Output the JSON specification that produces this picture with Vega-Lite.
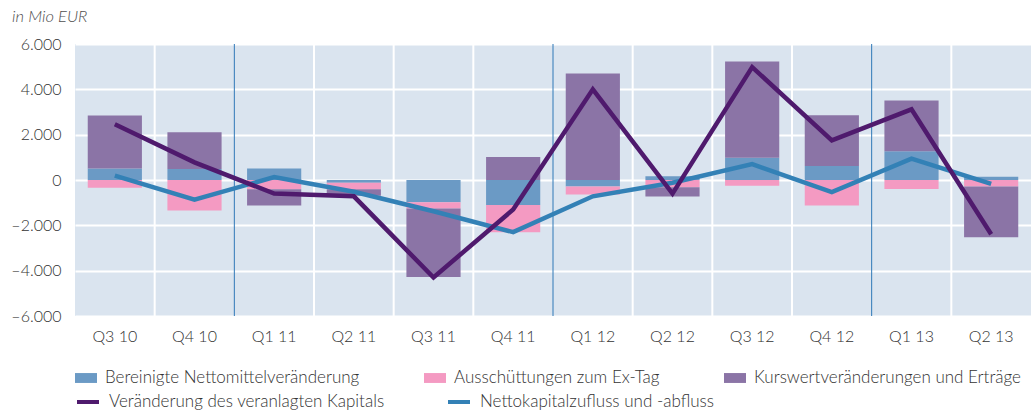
{
  "$schema": "https://vega.github.io/schema/vega-lite/v6.json",
  "width": 956,
  "height": 272,
  "autosize": {"type": "none"},
  "padding": {"left": 75, "top": 44, "right": 0, "bottom": 98},
  "title": {"text": "in Mio EUR", "anchor": "start", "frame": "group", "orient": "top", "dx": -63, "offset": 11, "font": "Lato", "fontStyle": "italic", "fontWeight": 300, "fontSize": 16.5, "color": "#505050"},
  "datasets": {
    "bars": [
      {"q": "Q3 10", "s": "Bereinigte Nettomittelveränderung", "o": 1, "v": 510},
      {"q": "Q3 10", "s": "Ausschüttungen zum Ex-Tag", "o": 2, "v": -340},
      {"q": "Q3 10", "s": "Kurswertveränderungen und Erträge", "o": 3, "v": 2340},
      {"q": "Q4 10", "s": "Bereinigte Nettomittelveränderung", "o": 1, "v": 480},
      {"q": "Q4 10", "s": "Ausschüttungen zum Ex-Tag", "o": 2, "v": -1350},
      {"q": "Q4 10", "s": "Kurswertveränderungen und Erträge", "o": 3, "v": 1630},
      {"q": "Q1 11", "s": "Bereinigte Nettomittelveränderung", "o": 1, "v": 510},
      {"q": "Q1 11", "s": "Ausschüttungen zum Ex-Tag", "o": 2, "v": -410},
      {"q": "Q1 11", "s": "Kurswertveränderungen und Erträge", "o": 3, "v": -720},
      {"q": "Q2 11", "s": "Bereinigte Nettomittelveränderung", "o": 1, "v": -120},
      {"q": "Q2 11", "s": "Ausschüttungen zum Ex-Tag", "o": 2, "v": -290},
      {"q": "Q2 11", "s": "Kurswertveränderungen und Erträge", "o": 3, "v": -290},
      {"q": "Q3 11", "s": "Bereinigte Nettomittelveränderung", "o": 1, "v": -980},
      {"q": "Q3 11", "s": "Ausschüttungen zum Ex-Tag", "o": 2, "v": -280},
      {"q": "Q3 11", "s": "Kurswertveränderungen und Erträge", "o": 3, "v": -3020},
      {"q": "Q4 11", "s": "Bereinigte Nettomittelveränderung", "o": 1, "v": -1100},
      {"q": "Q4 11", "s": "Ausschüttungen zum Ex-Tag", "o": 2, "v": -1200},
      {"q": "Q4 11", "s": "Kurswertveränderungen und Erträge", "o": 3, "v": 1010},
      {"q": "Q1 12", "s": "Bereinigte Nettomittelveränderung", "o": 1, "v": -290},
      {"q": "Q1 12", "s": "Ausschüttungen zum Ex-Tag", "o": 2, "v": -350},
      {"q": "Q1 12", "s": "Kurswertveränderungen und Erträge", "o": 3, "v": 4700},
      {"q": "Q2 12", "s": "Bereinigte Nettomittelveränderung", "o": 1, "v": 160},
      {"q": "Q2 12", "s": "Ausschüttungen zum Ex-Tag", "o": 2, "v": -320},
      {"q": "Q2 12", "s": "Kurswertveränderungen und Erträge", "o": 3, "v": -410},
      {"q": "Q3 12", "s": "Bereinigte Nettomittelveränderung", "o": 1, "v": 980},
      {"q": "Q3 12", "s": "Ausschüttungen zum Ex-Tag", "o": 2, "v": -250},
      {"q": "Q3 12", "s": "Kurswertveränderungen und Erträge", "o": 3, "v": 4250},
      {"q": "Q4 12", "s": "Bereinigte Nettomittelveränderung", "o": 1, "v": 620},
      {"q": "Q4 12", "s": "Ausschüttungen zum Ex-Tag", "o": 2, "v": -1130},
      {"q": "Q4 12", "s": "Kurswertveränderungen und Erträge", "o": 3, "v": 2240},
      {"q": "Q1 13", "s": "Bereinigte Nettomittelveränderung", "o": 1, "v": 1270},
      {"q": "Q1 13", "s": "Ausschüttungen zum Ex-Tag", "o": 2, "v": -400},
      {"q": "Q1 13", "s": "Kurswertveränderungen und Erträge", "o": 3, "v": 2240},
      {"q": "Q2 13", "s": "Bereinigte Nettomittelveränderung", "o": 1, "v": 145},
      {"q": "Q2 13", "s": "Ausschüttungen zum Ex-Tag", "o": 2, "v": -290},
      {"q": "Q2 13", "s": "Kurswertveränderungen und Erträge", "o": 3, "v": -2240}
    ],
    "lines": [
      {"q": "Q3 10", "s": "Veränderung des veranlagten Kapitals", "v": 2460},
      {"q": "Q4 10", "s": "Veränderung des veranlagten Kapitals", "v": 780},
      {"q": "Q1 11", "s": "Veränderung des veranlagten Kapitals", "v": -600},
      {"q": "Q2 11", "s": "Veränderung des veranlagten Kapitals", "v": -720},
      {"q": "Q3 11", "s": "Veränderung des veranlagten Kapitals", "v": -4300},
      {"q": "Q4 11", "s": "Veränderung des veranlagten Kapitals", "v": -1300},
      {"q": "Q1 12", "s": "Veränderung des veranlagten Kapitals", "v": 4000},
      {"q": "Q2 12", "s": "Veränderung des veranlagten Kapitals", "v": -600},
      {"q": "Q3 12", "s": "Veränderung des veranlagten Kapitals", "v": 4980},
      {"q": "Q4 12", "s": "Veränderung des veranlagten Kapitals", "v": 1750},
      {"q": "Q1 13", "s": "Veränderung des veranlagten Kapitals", "v": 3120},
      {"q": "Q2 13", "s": "Veränderung des veranlagten Kapitals", "v": -2390},
      {"q": "Q3 10", "s": "Nettokapitalzufluss und -abfluss", "v": 190},
      {"q": "Q4 10", "s": "Nettokapitalzufluss und -abfluss", "v": -870},
      {"q": "Q1 11", "s": "Nettokapitalzufluss und -abfluss", "v": 130},
      {"q": "Q2 11", "s": "Nettokapitalzufluss und -abfluss", "v": -520},
      {"q": "Q3 11", "s": "Nettokapitalzufluss und -abfluss", "v": -1380},
      {"q": "Q4 11", "s": "Nettokapitalzufluss und -abfluss", "v": -2300},
      {"q": "Q1 12", "s": "Nettokapitalzufluss und -abfluss", "v": -720},
      {"q": "Q2 12", "s": "Nettokapitalzufluss und -abfluss", "v": -120},
      {"q": "Q3 12", "s": "Nettokapitalzufluss und -abfluss", "v": 700},
      {"q": "Q4 12", "s": "Nettokapitalzufluss und -abfluss", "v": -530},
      {"q": "Q1 13", "s": "Nettokapitalzufluss und -abfluss", "v": 940},
      {"q": "Q2 13", "s": "Nettokapitalzufluss und -abfluss", "v": -170}
    ],
    "grid": [
      {"q": "Q4 10"}, {"q": "Q1 11"}, {"q": "Q2 11"}, {"q": "Q3 11"}, {"q": "Q4 11"}, {"q": "Q1 12"},
      {"q": "Q2 12"}, {"q": "Q3 12"}, {"q": "Q4 12"}, {"q": "Q1 13"}, {"q": "Q2 13"}
    ]
  },
  "config": {
    "locale": {"number": {"decimal": ",", "thousands": ".", "grouping": [3], "currency": ["", " €"], "minus": "–"}},
    "view": {"fill": "#dae4ef", "stroke": null},
    "font": "Lato",
    "axis": {"labelFont": "Lato", "labelFontWeight": 300, "labelColor": "#333333", "labelFontSize": 16, "title": null, "domain": false, "ticks": false},
    "legend": {"labelFont": "Lato", "labelFontWeight": 300, "labelColor": "#333333", "labelFontSize": 17, "labelLimit": 500, "title": null, "orient": "none", "labelOffset": 8, "symbolSize": 484}
  },
  "layer": [
    {
      "data": {"name": "grid"},
      "transform": [{"filter": "indexof(datum.q, 'Q1') !== 0"}],
      "mark": {"type": "rule", "color": "#ffffff", "strokeWidth": 2},
      "encoding": {"x": {"field": "q", "type": "nominal", "bandPosition": 0, "scale": {"type": "band", "paddingInner": 0, "paddingOuter": 0, "domain": ["Q3 10", "Q4 10", "Q1 11", "Q2 11", "Q3 11", "Q4 11", "Q1 12", "Q2 12", "Q3 12", "Q4 12", "Q1 13", "Q2 13"]}, "axis": {"labelPadding": 12, "grid": false, "labelAngle": 0, "labelFlush": false, "bandPosition": 0.5}}}
    },
    {
      "data": {"name": "grid"},
      "transform": [{"filter": "indexof(datum.q, 'Q1') === 0"}],
      "mark": {"type": "rule", "color": "#2f78b7", "strokeWidth": 1},
      "encoding": {"x": {"field": "q", "type": "nominal", "bandPosition": 0}}
    },
    {
      "data": {"name": "bars"},
      "mark": {"type": "bar", "width": {"band": 0.68}},
      "encoding": {
        "x": {"field": "q", "type": "nominal", "sort": null},
        "y": {"field": "v", "type": "quantitative", "stack": "zero", "scale": {"domain": [-6000, 6000], "nice": false}, "axis": {"values": [-6000, -4000, -2000, 0, 2000, 4000, 6000], "format": ",.0f", "grid": true, "gridColor": "#ffffff", "gridWidth": 2, "labelPadding": 14}},
        "order": {"field": "o"},
        "fill": {"field": "s", "type": "nominal", "scale": {"domain": ["Bereinigte Nettomittelveränderung", "Ausschüttungen zum Ex-Tag", "Kurswertveränderungen und Erträge"], "range": ["#6b9ac5", "#f49ac2", "#8b74a6"]}, "legend": {"legendX": 0, "legendY": 323, "columns": 3, "columnPadding": 64, "gridAlign": "none", "symbolType": "M-1,-0.45H1V0.45H-1Z", "symbolStrokeWidth": 0}}
      }
    },
    {
      "mark": {"type": "rule", "color": "#666666", "strokeWidth": 2},
      "encoding": {"y": {"datum": 0}}
    },
    {
      "data": {"name": "lines"},
      "transform": [{"filter": "datum.s === 'Nettokapitalzufluss und -abfluss'"}],
      "mark": {"type": "line", "strokeWidth": 4.5, "strokeJoin": "miter"},
      "encoding": {
        "x": {"field": "q", "type": "nominal", "sort": null},
        "y": {"field": "v", "type": "quantitative"},
        "stroke": {"field": "s", "type": "nominal", "scale": {"domain": ["Veränderung des veranlagten Kapitals", "Nettokapitalzufluss und -abfluss"], "range": ["#4f1a6d", "#3381b6"]}, "legend": {"legendX": 0, "legendY": 345, "columns": 2, "columnPadding": 55, "gridAlign": "none", "symbolType": "stroke", "symbolStrokeWidth": 4}}
      }
    },
    {
      "data": {"name": "lines"},
      "transform": [{"filter": "datum.s === 'Veränderung des veranlagten Kapitals'"}],
      "mark": {"type": "line", "strokeWidth": 4.5, "strokeJoin": "miter"},
      "encoding": {
        "x": {"field": "q", "type": "nominal", "sort": null},
        "y": {"field": "v", "type": "quantitative"},
        "stroke": {"field": "s", "type": "nominal"}
      }
    }
  ]
}
